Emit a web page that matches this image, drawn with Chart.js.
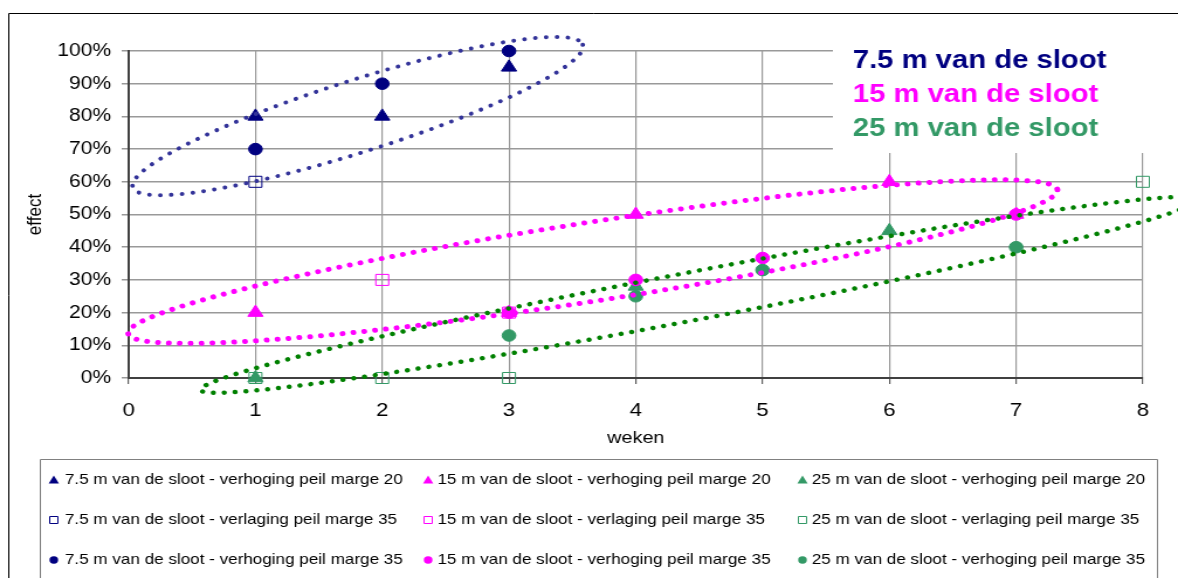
<!DOCTYPE html>
<html>
<head>
<meta charset="utf-8">
<title>effect per week</title>
<script src="https://cdn.jsdelivr.net/npm/chart.js"></script>
<style>
  html, body { margin: 0; padding: 0; background: #fff; overflow: hidden; }
  /* the original picture is a little wider than it is drawn: stretch it */
  #wrap { width: 1007px; height: 578px; transform: scaleX(1.1698); transform-origin: 0 0; }
  #chart { display: block; }
</style>
</head>
<body>
<div id="wrap"><canvas id="chart" width="1007" height="578"></canvas></div>
<script>
// ---- data: [week, effect %] per series ----
const groupLabels = ['7.5 m van de sloot', '15 m van de sloot', '25 m van de sloot'];
const typeLabels = ['verhoging peil marge 20', 'verlaging peil marge 35', 'verhoging peil marge 35'];

const near_up20 = [[1, 80], [2, 80], [3, 95]];
const mid_up20 = [[1, 20], [3, 20], [4, 50], [6, 60], [7, 50]];
const far_up20 = [[1, 0], [4, 28], [6, 45]];

const near_down35 = [[1, 60]];
const mid_down35 = [[2, 30], [3, 20]];
const far_down35 = [[1, 0], [2, 0], [3, 0], [8, 60]];

const near_up35 = [[1, 70], [2, 90], [3, 100]];
const mid_up35 = [[3, 20], [4, 30], [5, 36.7], [7, 50]];
const far_up35 = [[3, 13], [4, 25], [5, 33], [7, 40]];

const weekTicks = [0, 1, 2, 3, 4, 5, 6, 7, 8];
const effectTicks = [0, 10, 20, 30, 40, 50, 60, 70, 80, 90, 100];

// dotted rings drawn round each group (centre, two conjugate half axes, in weeks / %)
const ringNear = { c: [1.807, 80.1], a: [1.775, 21.8], b: [0.086, -10.5] };
const ringMid = { c: [3.661, 35.6], a: [3.665, 22.0], b: [0.048, -11.9] };
const ringFar = { c: [4.497, 25.4], a: [3.929, 29.05], b: [0.0355, -7.22] };

// ---- styles ----
const groupColors = ['#000080', '#ff00ff', '#339966'];
const ringColors = ['#333399', '#ff00ff', '#008000'];
const ringWidths = [4, 5, 4.5];
const markerStyles = ['triangle', 'rect', 'circle'];
const markerRadius = { triangle: 7.5, rect: 7.8, circle: 5.8 };

const seriesRows = [
  [near_up20, mid_up20, far_up20],
  [near_down35, mid_down35, far_down35],
  [near_up35, mid_up35, far_up35]
];

Chart.defaults.font.family = '"Liberation Sans", Arial, sans-serif';
Chart.defaults.color = '#000';

const datasets = [];
seriesRows.forEach((row, t) => {
  row.forEach((pts, g) => {
    const style = markerStyles[t];
    const open = style === 'rect';
    datasets.push({
      label: groupLabels[g] + ' - ' + typeLabels[t],
      data: pts.map(p => ({ x: p[0], y: p[1] })),
      showLine: false,
      pointStyle: style,
      pointRadius: markerRadius[style],
      pointHoverRadius: markerRadius[style],
      pointBorderWidth: 1,
      pointBorderColor: groupColors[g],
      pointBackgroundColor: open ? 'rgba(0,0,0,0)' : groupColors[g],
      clip: false,
      order: 20 - datasets.length
    });
  });
});

const frame = {
  id: 'frame',
  beforeDraw(chart) {
    const ctx = chart.ctx;
    ctx.save();
    ctx.fillStyle = '#fff';
    ctx.fillRect(0, 0, chart.width, chart.height);
    ctx.strokeStyle = '#000';
    ctx.lineWidth = 1;
    ctx.beginPath();
    ctx.moveTo(7.5, chart.height);
    ctx.lineTo(7.5, 13.5);
    ctx.lineTo(chart.width, 13.5);
    ctx.stroke();
    ctx.restore();
  }
};

const groupTitles = {
  id: 'groupTitles',
  beforeDatasetsDraw(chart) {
    const ctx = chart.ctx;
    ctx.save();
    ctx.fillStyle = '#fff';
    ctx.fillRect(712, 40, 290, 113);
    ctx.font = 'bold 25px "Liberation Sans", Arial, sans-serif';
    ctx.textBaseline = 'alphabetic';
    ctx.textAlign = 'left';
    groupLabels.forEach((txt, i) => {
      ctx.fillStyle = groupColors[i];
      ctx.fillText(txt, 729, 68 + i * 34);
    });
    ctx.restore();
  }
};

const rings = {
  id: 'rings',
  afterDatasetsDraw(chart) {
    const ctx = chart.ctx;
    const xs = chart.scales.x, ys = chart.scales.y;
    ctx.save();
    [ringNear, ringMid, ringFar].forEach((r, i) => {
      ctx.beginPath();
      const n = 240;
      for (let k = 0; k <= n; k++) {
        const t = 2 * Math.PI * k / n;
        const wx = r.c[0] + r.a[0] * Math.cos(t) + r.b[0] * Math.sin(t);
        const wy = r.c[1] + r.a[1] * Math.cos(t) + r.b[1] * Math.sin(t);
        const px = xs.getPixelForValue(wx), py = ys.getPixelForValue(wy);
        if (k === 0) ctx.moveTo(px, py); else ctx.lineTo(px, py);
      }
      ctx.strokeStyle = ringColors[i];
      ctx.lineWidth = ringWidths[i];
      ctx.lineCap = 'round';
      ctx.setLineDash([0.01, 9.3]);
      ctx.stroke();
    });
    ctx.restore();
  }
};

function drawMarker(ctx, style, x, y, color, open) {
  ctx.beginPath();
  if (style === 'triangle') {
    ctx.moveTo(x, y - 4.6);
    ctx.lineTo(x + 4.4, y + 3.4);
    ctx.lineTo(x - 4.4, y + 3.4);
    ctx.closePath();
  } else if (style === 'rect') {
    ctx.rect(x - 3.5, y - 3.5, 7, 7);
  } else {
    ctx.arc(x, y, 3.7, 0, 2 * Math.PI);
  }
  if (open) {
    ctx.strokeStyle = color;
    ctx.lineWidth = 1;
    ctx.stroke();
  } else {
    ctx.fillStyle = color;
    ctx.fill();
  }
}

const gridLegend = {
  id: 'gridLegend',
  afterDraw(chart) {
    const ctx = chart.ctx;
    const markerX = [46, 366, 686];
    const textX = [55.5, 374, 694];
    const rowY = [480, 520, 560];
    ctx.save();
    ctx.strokeStyle = '#808080';
    ctx.lineWidth = 1;
    ctx.beginPath();
    ctx.moveTo(34.5, chart.height);
    ctx.lineTo(34.5, 459.5);
    ctx.lineTo(989.5, 459.5);
    ctx.lineTo(989.5, chart.height);
    ctx.stroke();
    ctx.font = '14.6px "Liberation Sans", Arial, sans-serif';
    ctx.textBaseline = 'middle';
    ctx.textAlign = 'left';
    chart.data.datasets.forEach((ds, i) => {
      const col = i % 3, row = Math.floor(i / 3);
      drawMarker(ctx, ds.pointStyle, markerX[col], rowY[row], ds.pointBorderColor, ds.pointStyle === 'rect');
      ctx.fillStyle = '#000';
      ctx.fillText(ds.label, textX[col], rowY[row]);
    });
    ctx.restore();
  }
};

new Chart(document.getElementById('chart'), {
  type: 'scatter',
  data: { datasets: datasets },
  plugins: [frame, groupTitles, rings, gridLegend],
  options: {
    responsive: false,
    animation: false,
    devicePixelRatio: 1,
    events: [],
    layout: { padding: { left: 0, top: 51, right: 30, bottom: 128 } },
    plugins: { legend: { display: false }, tooltip: { enabled: false } },
    scales: {
      x: {
        type: 'linear',
        min: weekTicks[0],
        max: weekTicks[weekTicks.length - 1],
        afterBuildTicks(s) { s.ticks = weekTicks.map(v => ({ value: v })); },
        ticks: { font: { size: 19 }, padding: 15, color: '#000' },
        grid: { color: '#999999', lineWidth: 1.2, tickLength: 6, tickColor: '#606060' },
        border: { color: '#404040', width: 2 },
        title: { display: true, text: 'weken', font: { size: 17 }, padding: { top: 0, bottom: 1 }, color: '#000' },
        afterFit(s) { s.height = 72; }
      },
      y: {
        min: effectTicks[0],
        max: effectTicks[effectTicks.length - 1],
        afterBuildTicks(s) { s.ticks = effectTicks.map(v => ({ value: v })); },
        ticks: { font: { size: 18 }, padding: 9, color: '#000', callback: v => v + '%' },
        grid: { color: '#999999', lineWidth: 1.5, tickLength: 6, tickColor: '#999999' },
        border: { color: '#404040', width: 2 },
        title: { display: true, text: 'effect', font: { size: 17 }, padding: { top: 20, bottom: 0 }, color: '#000' },
        afterFit(s) { s.width = 110; }
      }
    }
  }
});
</script>
</body>
</html>
